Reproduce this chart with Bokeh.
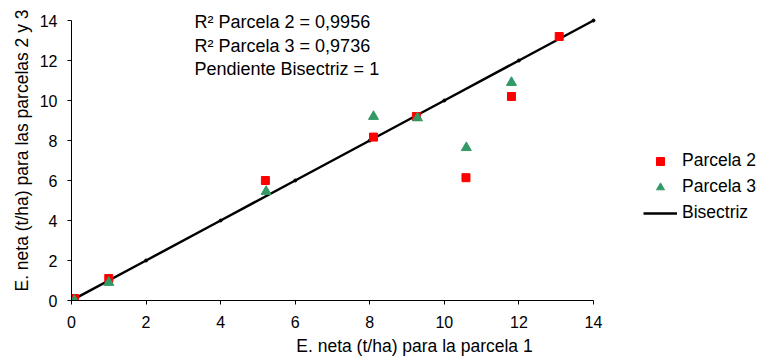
from bokeh.plotting import figure
from bokeh.models import Range1d, Label, Legend, LegendItem, FixedTicker
from bokeh.embed import file_html
from bokeh.resources import INLINE

# Data
parcela1_x2 = [0.08, 1.0, 5.2, 8.1, 9.25, 10.58, 11.8, 13.08]
parcela2 = [0.1, 1.1, 6.0, 8.17, 9.2, 6.14, 10.2, 13.2]
parcela1_x3 = [0.08, 1.0, 5.22, 8.1, 9.28, 10.59, 11.8]
parcela3 = [0.0, 0.9, 5.45, 9.2, 9.13, 7.64, 10.9]
bisectriz_x = [0, 2, 4, 6, 8, 10, 12, 14]
bisectriz_y = [0, 2, 4, 6, 8, 10, 12, 14]
tick_values = [0, 2, 4, 6, 8, 10, 12, 14]
annotations = ["R² Parcela 2 = 0,9956", "R² Parcela 3 = 0,9736", "Pendiente Bisectriz = 1"]

FONT = "Liberation Sans"

# frame spans from the axes to the right/top edges of the canvas;
# the axes themselves are bounded to 0..14
p = figure(width=757, height=358,
           x_range=Range1d(0, 14 * 686 / 522), y_range=Range1d(0, 15),
           output_backend="svg", toolbar_location=None,
           min_border_left=71, min_border_right=0,
           min_border_top=0, min_border_bottom=58,
           background_fill_color="white", border_fill_color="white")
p.outline_line_color = None
p.grid.visible = False

for ax in (p.xaxis[0], p.yaxis[0]):
    ax.bounds = (0, 14)
    ax.ticker = FixedTicker(ticks=tick_values)
    ax.axis_line_color = "black"
    ax.axis_line_width = 1
    ax.major_tick_out = 4
    ax.major_tick_in = 0
    ax.minor_tick_out = 0
    ax.minor_tick_in = 0
    ax.major_tick_line_color = "black"
    ax.major_label_text_font = FONT
    ax.major_label_text_font_size = "16px"
    ax.major_label_text_color = "black"
    ax.axis_label_text_font = FONT
    ax.axis_label_text_font_size = "17.5px"
    ax.axis_label_text_font_style = "normal"
    ax.axis_label_text_color = "black"

p.xaxis.axis_label = "E. neta (t/ha) para la parcela 1"
p.yaxis.axis_label = "E. neta (t/ha) para las parcelas 2 y 3"
p.xaxis.major_label_standoff = 11
p.xaxis.axis_label_standoff = 5
p.yaxis.major_label_standoff = 10
p.yaxis.axis_label_standoff = 5

r_line = p.line(bisectriz_x, bisectriz_y, line_color="black", line_width=2.5)
p.scatter(bisectriz_x, bisectriz_y, marker="circle", size=3, color="black")
r2 = p.scatter(parcela1_x2, parcela2, marker="square", size=8,
               fill_color="#FF0000", line_color="#FF0000")
r3 = p.scatter(parcela1_x3, parcela3, marker="triangle", size=10,
               fill_color="#339966", line_color="#339966")

ann_y = [13.95, 12.75, 11.6]
for txt, yy in zip(annotations, ann_y):
    p.add_layout(Label(x=3.3, y=yy, text=txt, text_font=FONT,
                       text_font_size="18px", text_color="black",
                       text_baseline="middle", text_align="left"))

legend = Legend(items=[LegendItem(label="Parcela 2", renderers=[r2]),
                       LegendItem(label="Parcela 3", renderers=[r3]),
                       LegendItem(label="Bisectriz", renderers=[r_line])],
                location=(572, 77),
                padding=0, margin=0, spacing=5,
                glyph_width=34, glyph_height=20, label_height=20,
                label_standoff=5,
                label_text_font=FONT, label_text_font_size="17.5px",
                label_text_color="black",
                border_line_alpha=0, background_fill_alpha=0)
p.add_layout(legend)

open("out.html", "w").write(file_html(p, INLINE))
